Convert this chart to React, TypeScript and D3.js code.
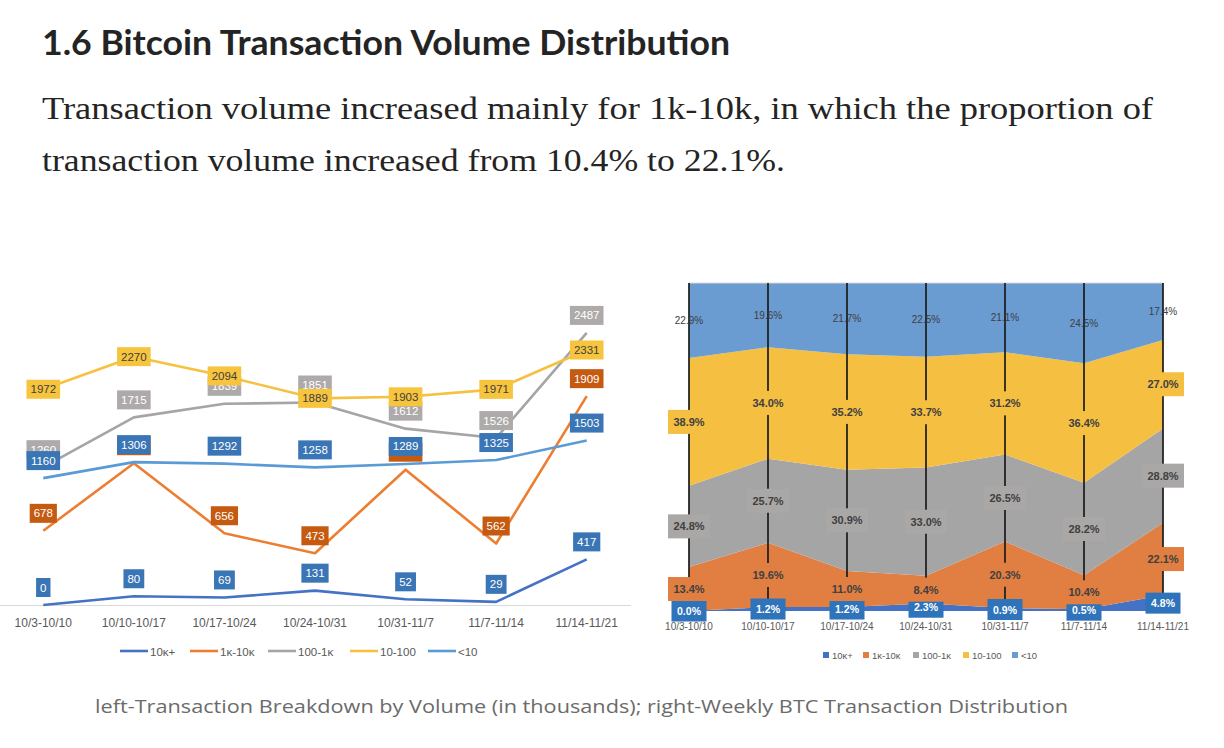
import React from "react";
import * as d3 from "d3";

const weeks = ["10/3-10/10", "10/10-10/17", "10/17-10/24", "10/24-10/31", "10/31-11/7", "11/7-11/14", "11/14-11/21"];
const seriesNames = ["10ᴋ+", "1ᴋ-10ᴋ", "100-1ᴋ", "10-100", "<10"];

// left chart: transaction volume, thousands
const vol10kPlus = [0, 80, 69, 131, 52, 29, 417];
const vol1kTo10k = [678, 1296, 656, 473, 1237, 562, 1909];
const vol100To1k = [1260, 1715, 1839, 1851, 1612, 1526, 2487];
const vol10To100 = [1972, 2270, 2094, 1889, 1903, 1971, 2331];
const volUnder10 = [1160, 1306, 1292, 1258, 1289, 1325, 1503];

// right chart: weekly share, %
const pct10kPlus = [0.0, 1.2, 1.2, 2.3, 0.9, 0.5, 4.8];
const pct1kTo10k = [13.4, 19.6, 11.0, 8.4, 20.3, 10.4, 22.1];
const pct100To1k = [24.8, 25.7, 30.9, 33.0, 26.5, 28.2, 28.8];
const pct10To100 = [38.9, 34.0, 35.2, 33.7, 31.2, 36.4, 27.0];
const pctUnder10 = [22.9, 19.6, 21.7, 22.5, 21.1, 24.5, 17.4];

const lineColors = ["#4472c4", "#ed7d31", "#a5a5a5", "#f6c141", "#5b9bd5"];
const leftLabelBg = ["#3a75b5", "#c55a11", "#aeaaaa", "#f7c43e", "#3a75b5"];
const leftLabelFg = ["#fff", "#fff", "#fff", "#404040", "#fff"];

const areaColors = ["#4472c4", "#e07f41", "#a5a5a5", "#f5bf42", "#6a9bd1"];
const rightLabelBg = ["#2f73ba", "#e07f41", "#aaa7a7", "#f5bf42", "none"];

const FONT = "'Liberation Sans', Arial, sans-serif";

function LeftChart() {
  const volumes = [vol10kPlus, vol1kTo10k, vol100To1k, vol10To100, volUnder10];
  const x = d3.scaleBand<string>().domain(weeks).range([-2, 632]);
  const cx = (w: string) => (x(w) as number) + x.bandwidth() / 2;
  const y = d3.scaleLinear().domain([0, 2500]).range([605, 331.5]);
  const line = d3
    .line<number>()
    .x((_, i) => cx(weeks[i]))
    .y((d) => y(d));

  const legendX = [120, 190, 268, 350, 428];

  return (
    <g>
      <line x1={0} x2={631} y1={605.5} y2={605.5} stroke="#d9d9d9" strokeWidth={1} />
      {volumes.map((vals, s) => (
        <path key={s} d={line(vals) || ""} fill="none" stroke={lineColors[s]} strokeWidth={2.6} strokeLinejoin="round" />
      ))}
      {volumes.map((vals, s) =>
        vals.map((v, i) => {
          const txt = String(v);
          const w = txt.length * 6.4 + 8;
          const h = 19;
          const yc = s === 3 ? y(v) : y(v) - 17.5;
          return (
            <g key={`${s}-${i}`}>
              <rect x={cx(weeks[i]) - w / 2} y={yc - h / 2} width={w} height={h} fill={leftLabelBg[s]} />
              <text x={cx(weeks[i])} y={yc + 4} textAnchor="middle" fontFamily={FONT} fontSize={11.5} fill={leftLabelFg[s]}>
                {txt}
              </text>
            </g>
          );
        })
      )}
      {weeks.map((w) => (
        <text key={w} x={cx(w)} y={627} textAnchor="middle" fontFamily={FONT} fontSize={12} fill="#595959">
          {w}
        </text>
      ))}
      {seriesNames.map((n, s) => (
        <g key={n}>
          <line x1={legendX[s]} x2={legendX[s] + 28} y1={651} y2={651} stroke={lineColors[s]} strokeWidth={2.6} />
          <text x={legendX[s] + 30} y={655.5} fontFamily={FONT} fontSize={11.5} fill="#595959">
            {n}
          </text>
        </g>
      ))}
    </g>
  );
}

function RightChart() {
  const shares = [pct10kPlus, pct1kTo10k, pct100To1k, pct10To100, pctUnder10];
  const keys = ["k0", "k1", "k2", "k3", "k4"];
  const rows = weeks.map((w, i) => {
    const r: Record<string, number | string> = { week: w };
    keys.forEach((k, s) => (r[k] = shares[s][i]));
    return r;
  });
  const stack = d3
    .stack<Record<string, number | string>>()
    .keys(keys)
    .value((d, k) => d[k] as number)
    .offset(d3.stackOffsetExpand);
  const layers = stack(rows);

  const x = d3.scalePoint<string>().domain(weeks).range([689, 1163]);
  const y = d3.scaleLinear().domain([0, 1]).range([611, 283]);
  const area = d3
    .area<d3.SeriesPoint<Record<string, number | string>>>()
    .x((d) => x(d.data.week as string) as number)
    .y0((d) => y(d[0]))
    .y1((d) => y(d[1]));

  const legendX = [823, 863, 913, 963, 1012];

  return (
    <g>
      {layers.map((layer, s) => (
        <path key={s} d={area(layer) || ""} fill={areaColors[s]} />
      ))}
      <line x1={689} x2={1163} y1={283} y2={283} stroke="#d9d9d9" strokeWidth={1} />
      {weeks.map((w) => (
        <line key={w} x1={x(w)} x2={x(w)} y1={283} y2={611} stroke="#1a1a1a" strokeWidth={1.7} />
      ))}
      {layers.map((layer, s) =>
        layer.map((d, i) => {
          const xc = x(weeks[i]) as number;
          const yc = y((d[0] + d[1]) / 2);
          const txt = shares[s][i].toFixed(1) + "%";
          if (s === 4) {
            return (
              <text key={`${s}-${i}`} x={xc} y={yc + 3.5} textAnchor="middle" fontFamily={FONT} fontSize={10} fill="#404040">
                {txt}
              </text>
            );
          }
          const small = s === 0;
          const w = small ? 35 : 42;
          const h = small ? 21 : 24;
          return (
            <g key={`${s}-${i}`}>
              <rect x={xc - w / 2} y={yc - h / 2} width={w} height={h} fill={rightLabelBg[s]} />
              <text x={xc} y={yc + 4} textAnchor="middle" fontFamily={FONT} fontSize={small ? 10.5 : 11} fontWeight="bold" fill={small ? "#fff" : "#404040"}>
                {txt}
              </text>
            </g>
          );
        })
      )}
      {weeks.map((w) => (
        <text key={w} x={x(w)} y={630} textAnchor="middle" fontFamily={FONT} fontSize={10} fill="#595959">
          {w}
        </text>
      ))}
      {seriesNames.map((n, s) => (
        <g key={n}>
          <rect x={legendX[s]} y={652} width={6} height={6} fill={areaColors[s]} />
          <text x={legendX[s] + 9} y={659} fontFamily={FONT} fontSize={9.5} fill="#595959">
            {n}
          </text>
        </g>
      ))}
    </g>
  );
}

export default function App() {
  return (
    <svg width={1224} height={748} style={{ position: "absolute", left: 0, top: 0, background: "#fff" }}>
      <rect width={1224} height={748} fill="#fff" />
      <text x={42} y={55} fontFamily="Lato, 'Open Sans', sans-serif" fontWeight="bold" fontSize={34} fill="#242424" textLength={688} lengthAdjust="spacingAndGlyphs">
        1.6 Bitcoin Transaction Volume Distribution
      </text>
      <text x={42} y={119} fontFamily="'Liberation Serif', serif" fontSize={31} fill="#242424" textLength={1111} lengthAdjust="spacingAndGlyphs">
        Transaction volume increased mainly for 1k-10k, in which the proportion of
      </text>
      <text x={42} y={171} fontFamily="'Liberation Serif', serif" fontSize={31} fill="#242424" textLength={743} lengthAdjust="spacingAndGlyphs">
        transaction volume increased from 10.4% to 22.1%.
      </text>
      <LeftChart />
      <RightChart />
      <text x={95} y={713} fontFamily="'Open Sans', 'DejaVu Sans', sans-serif" fontSize={19} fill="#6b6b6b" textLength={973} lengthAdjust="spacingAndGlyphs">
        left-Transaction Breakdown by Volume (in thousands); right-Weekly BTC Transaction Distribution
      </text>
    </svg>
  );
}
